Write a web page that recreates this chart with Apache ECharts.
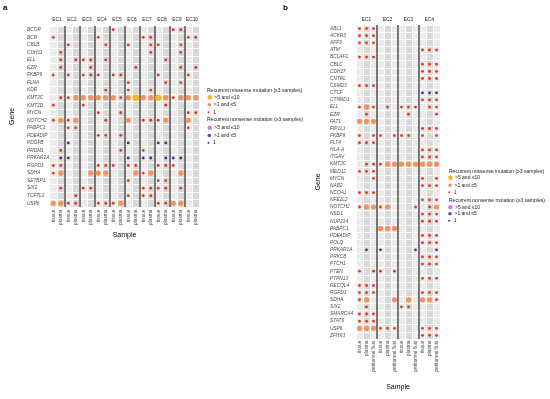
<!DOCTYPE html>
<html><head><meta charset="utf-8">
<script src="https://cdn.jsdelivr.net/npm/echarts@6/dist/echarts.min.js"></script>
<style>html,body{margin:0;padding:0;background:#fff}#c{width:550px;height:399px}</style>
</head><body><div id="c"></div>
<script>
// ---------------- DATA ----------------
const genesA = ['BCOR','BCR','CBLB','CDH11','ELL','EZR','FKBP9','FLNA','KDR','KMT2C','KMT2D','MYCN','NOTCH2','PABPC1','PDE4DIP','PDGFB','PRDM1','PRKAR1A','RGPD3','SDHA','SETBP1','SIX2','TCF7L2','USP6'];
const groupsA = ['EC1','EC2','EC3','EC4','EC5','EC6','EC7','EC8','EC9','EC10'];
const typesA = ['t','p'];

const genesB = ['ABL1','ACKR3','AFF3','ATM','BCLAF1','CBLC','CDH17','CNTRL','CSMD3','CTCF','CTNND1','ELL','EZR','FAT1','FIP1L1','FKBP9','FLT4','HLA-A','ITGAV','KMT2C','MED12','MYCN','NAB2','NCOA1','NFE2L2','NOTCH2','NSD1','NUP214','PABPC1','PDE4DIP','POLQ','PRKAR1A','PRKCB','PTCH1','PTEN','PTPN13','RECQL4','RGPD3','SDHA','SIX2','SMARCA4','STAT6','USP6','ZFHX3'];
const groupsB = ['EC1','EC2','EC3','EC4'];
const typesB = ['t','p','f'];

const sampleTypeNames = {t:'tissue', p:'plasma', f:'peritoneal fluid'};

// panel a: missense, count = 1
const aMissense1 = [
  ['BCOR','EC5t EC9t EC9p'],
  ['BCR','EC1t EC4t EC7t EC7p EC10t EC10p'],
  ['CBLB','EC2t EC4p EC6t EC7p EC8t EC9p'],
  ['CDH11','EC1p EC7p EC9p'],
  ['ELL','EC1p EC2p EC3t EC3p EC4p EC8p'],
  ['EZR','EC1p EC3p EC6p EC9p EC10p'],
  ['FKBP9','EC1t EC2t EC3t EC3p EC4t EC5t EC5p EC8t EC10t'],
  ['FLNA','EC6t EC8p EC9p'],
  ['KDR','EC4p EC6t EC7p'],
  ['KMT2C','EC1p EC2t EC5p EC9t'],
  ['KMT2D','EC1t EC3t EC8p'],
  ['MYCN','EC4t EC5p EC10t EC10p'],
  ['NOTCH2','EC1t EC2t EC4p EC7t EC7p EC8t'],
  ['PABPC1','EC2t EC2p EC10t'],
  ['PDE4DIP','EC4t EC4p EC5p'],
  ['PRDM1','EC1p EC5p EC7t'],
  ['RGPD3','EC1t EC1p EC4t EC4p EC5t EC6t EC6p EC8t EC8p EC9t'],
  ['SDHA','EC1t EC7t'],
  ['SETBP1','EC6t EC8t EC8p'],
  ['SIX2','EC1p EC3t EC3p EC7t EC7p EC8t EC8p EC9p'],
  ['TCF7L2','EC2p EC6t EC7t EC7p'],
  ['USP6','EC2t EC2p EC4t EC4p EC5t EC8t EC8p']
];
// panel a: missense, >1 and <=5
const aMissense2to5 = [
  ['KMT2C','EC2p EC3t EC3p EC4t EC4p EC5t EC6t EC7t EC7p EC8p EC9p EC10t EC10p'],
  ['NOTCH2','EC1p EC2p EC6t EC8p EC10t'],
  ['SDHA','EC1p EC3p EC4t EC4p EC6p EC7p EC9p'],
  ['USP6','EC1t EC1p EC5p EC9t EC9p']
];
// panel a: missense, >5 and <=10
const aMissense6to10 = [
  ['KMT2C','EC6p EC8t']
];
// panel a: nonsense
const aNonsense1 = [
  ['PDGFB','EC2t EC6t EC8t EC8p'],
  ['PRKAR1A','EC1p EC2t EC6t EC7t EC7p EC8p EC9t EC9p']
];
const aNonsense2to5 = [];
const aNonsense6to10 = [];

// panel b
const bMissense1 = [
  ['ABL1','EC1t EC1p EC1f'],
  ['ACKR3','EC1t EC1p EC1f'],
  ['AFF3','EC1t EC1p EC1f'],
  ['ATM','EC4t EC4p EC4f'],
  ['BCLAF1','EC1t EC1p EC1f'],
  ['CBLC','EC4t EC4p EC4f'],
  ['CDH17','EC4t EC4p EC4f'],
  ['CNTRL','EC4t EC4p EC4f'],
  ['CSMD3','EC1t EC1p EC1f'],
  ['CTNND1','EC4t EC4p EC4f'],
  ['ELL','EC1t EC1f EC2p EC3t EC3p EC3f EC4p EC4f'],
  ['EZR','EC1p EC3p EC4f'],
  ['FIP1L1','EC4t EC4p EC4f'],
  ['FKBP9','EC1t EC1f EC2t EC2f EC3t EC3p EC4t EC4f'],
  ['FLT4','EC1t EC1p EC1f'],
  ['HLA-A','EC4t EC4p EC4f'],
  ['ITGAV','EC4t EC4p EC4f'],
  ['KMT2C','EC1p EC1f EC2t'],
  ['MED12','EC1t EC1p EC1f'],
  ['MYCN','EC1f EC4t EC4f'],
  ['NAB2','EC4t EC4p EC4f'],
  ['NCOA1','EC1t EC1p EC1f'],
  ['NFE2L2','EC4t EC4p EC4f'],
  ['NOTCH2','EC1t EC2t EC3f EC4p'],
  ['NSD1','EC4t EC4p EC4f'],
  ['NUP214','EC4t EC4p EC4f'],
  ['PDE4DIP','EC4t EC4p EC4f'],
  ['POLQ','EC4t EC4p EC4f'],
  ['PRKCB','EC4t EC4p EC4f'],
  ['PTCH1','EC4t EC4p EC4f'],
  ['PTEN','EC1t EC1f EC2t EC2f'],
  ['PTPN13','EC4t EC4p EC4f'],
  ['RECQL4','EC1t EC1p EC1f'],
  ['RGPD3','EC1t EC1p EC1f EC4t EC4p EC4f'],
  ['SDHA','EC1t EC4f'],
  ['SIX2','EC1p EC3t EC3p'],
  ['SMARCA4','EC1t EC1p EC1f'],
  ['STAT6','EC1t EC1p EC1f'],
  ['USP6','EC2t EC2p EC2f EC4t EC4p EC4f'],
  ['ZFHX3','EC4t EC4p EC4f']
];
const bMissense2to5 = [
  ['ELL','EC1p'],
  ['FAT1','EC1t EC1p EC1f'],
  ['KMT2C','EC2p EC2f EC3t EC3p EC3f EC4t EC4p EC4f'],
  ['NOTCH2','EC1p EC1f EC2p EC4f'],
  ['PABPC1','EC2t EC2p EC2f'],
  ['SDHA','EC1p EC2f EC3p EC4t EC4p'],
  ['USP6','EC1t EC1p EC1f']
];
const bMissense6to10 = [];
const bNonsense1 = [
  ['CTCF','EC4t EC4p EC4f'],
  ['PRKAR1A','EC1p EC2t EC3f EC4f']
];
const bNonsense2to5 = [];
const bNonsense6to10 = [];

const legendLabels = {mL:'>5 and \u226410', mM:'>1 and \u22645', mS:'1', nL:'>5 and \u226410', nM:'>1 and \u22645', nS:'1'};
const legendHeaders = ['Recurrent missense mutation (\u22653 samples)', 'Recurrent nonsense mutation (\u22653 samples)'];

// ---------------- BUILD ----------------
const FONT = '"Liberation Sans", Arial, sans-serif';
function buildCols(groups, types){ const c=[]; groups.forEach(g=>types.forEach(t=>c.push(g+t))); return c; }
const colsA = buildCols(groupsA, typesA);
const colsB = buildCols(groupsB, typesB);
function toData(list, genes, cols){
  const out=[];
  list.forEach(([g,s])=>s.split(' ').forEach(k=>out.push([cols.indexOf(k), genes.indexOf(g)])));
  return out;
}
const kinds = [
  {key:'mL', color:'#FDB714', size:6.5, leg:4.6},
  {key:'mM', color:'#F6925A', size:5.2, leg:3.6},
  {key:'mS', color:'#E5361B', size:2.8, leg:2},
  {key:'nL', color:'#B98BDC', size:6.5, leg:4.6},
  {key:'nM', color:'#7A3EBE', size:5.2, leg:3.6},
  {key:'nS', color:'#47308A', size:2.8, leg:2}
];
const panels = [
  {genes:genesA, cols:colsA, groups:groupsA, split:['#EBEBEB','#D9D9D9'],
   grid:{left:49.5, top:26, width:150, height:181},
   lists:{mL:aMissense6to10, mM:aMissense2to5, mS:aMissense1, nL:aNonsense6to10, nM:aNonsense2to5, nS:aNonsense1},
   labelMargin:22.5, xNameGap:25, yNameGap:34, xLabMargin:2.5, topMargin:3.5,
   legX:210, legY:[97.7,105.3,112.7,128.3,136,143.3], headX:207, headY:[90.7,120.3], tag:'a', tagX:3},
  {genes:genesB, cols:colsB, groups:groupsB, split:['#EBEBEB','#D9D9D9','#EBEBEB'],
   grid:{left:356, top:25, width:84, height:314},
   lists:{mL:bMissense6to10, mM:bMissense2to5, mS:bMissense1, nL:bNonsense6to10, nM:bNonsense2to5, nS:bNonsense1},
   labelMargin:26, xNameGap:45, yNameGap:34.5, xLabMargin:1.5, topMargin:3,
   legX:450.7, legY:[178.3,185.7,192.7,207.7,214.3,221.3], headX:449, headY:[172.3,201], tag:'b', tagX:283}
];

const grid=[], xAxis=[], yAxis=[], series=[], legend=[], title=[];
panels.forEach((P,pi)=>{
  grid.push(Object.assign({outerBoundsMode:'none', containLabel:false}, P.grid));
  xAxis.push({
    type:'category', gridIndex:pi, data:P.cols, position:'bottom', z:0,
    axisLine:{show:false}, axisTick:{show:false},
    axisLabel:{interval:0, rotate:90, fontSize:4.8, color:'#4D4D4D', fontFamily:FONT, margin:P.xLabMargin,
      formatter:v=>sampleTypeNames[v.slice(-1)]},
    splitArea:{show:true, interval:0, areaStyle:{color:P.split}},
    splitLine:{show:true, interval:0, lineStyle:{color:'#FFFFFF', width:1}},
    name:'Sample', nameLocation:'middle', nameGap:P.xNameGap,
    nameTextStyle:{fontSize:7, color:'#000', fontFamily:FONT}
  });
  xAxis.push({
    type:'category', gridIndex:pi, data:P.groups, position:'top', z:1.5,
    axisLine:{show:false}, axisTick:{show:false},
    axisLabel:{interval:0, fontSize:4.8, color:'#1A1A1A', fontFamily:FONT, margin:P.topMargin},
    splitLine:{show:true, interval:0, showMinLine:false, showMaxLine:false, lineStyle:{color:'#4D4D4D', width:1.5}}
  });
  yAxis.push({
    type:'category', gridIndex:pi, data:P.genes, inverse:true, z:1,
    axisLine:{show:false}, axisTick:{show:false},
    axisLabel:{interval:0, fontSize:4.8, fontStyle:'italic', color:'#4D4D4D', fontFamily:FONT, align:'left', margin:P.labelMargin},
    splitLine:{show:true, interval:0, lineStyle:{color:'#FFFFFF', width:1}},
    name:'Gene', nameLocation:'middle', nameGap:P.yNameGap, nameRotate:90,
    nameTextStyle:{fontSize:7, color:'#000', fontFamily:FONT}
  });
  kinds.forEach((k,ki)=>{
    series.push({
      type:'scatter', name:k.key, xAxisIndex:pi*2, yAxisIndex:pi, symbol:'circle', symbolSize:k.size,
      itemStyle:{color:k.color, opacity:1}, z:3, silent:true,
      data:toData(P.lists[k.key], P.genes, P.cols)
    });
    legend.push({
      data:[k.key], icon:'circle', padding:0, selectedMode:false,
      itemWidth:5, itemHeight:k.leg,
      left:P.legX-2.5, top:P.legY[ki]-3,
      formatter:n=>legendLabels[n],
      textStyle:{fontSize:5, color:'#1A1A1A', fontFamily:FONT, padding:[0,0,0,-3]}
    });
  });
  legendHeaders.forEach((h,hi)=>{
    title.push({text:h, left:P.headX, top:P.headY[hi]-3, padding:0,
      textStyle:{fontSize:5, fontWeight:'normal', color:'#1A1A1A', fontFamily:FONT}});
  });
  title.push({text:P.tag, left:P.tagX, top:4, padding:0,
    textStyle:{fontSize:8, fontWeight:'bold', color:'#000', fontFamily:FONT}});
});

const chart = echarts.init(document.getElementById('c'), null, {renderer:'canvas'});
chart.setOption({animation:false, backgroundColor:'#fff', title, grid, xAxis, yAxis, legend, series});
</script></body></html>
